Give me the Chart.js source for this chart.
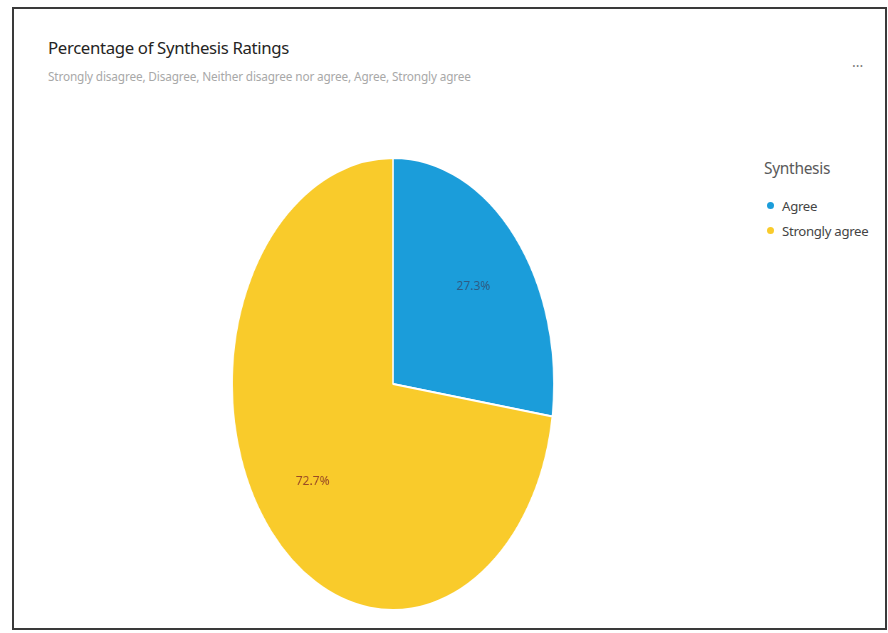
<!DOCTYPE html>
<html>
<head>
<meta charset="utf-8">
<script src="https://cdn.jsdelivr.net/npm/chart.js@4/dist/chart.umd.min.js"></script>
<style>
  html, body { margin: 0; padding: 0; background: #fff; }
  body { width: 888px; height: 633px; position: relative; overflow: hidden; font-family: "Noto Sans", "Open Sans", sans-serif; }
  #card { position: absolute; left: 12px; top: 7px; width: 871px; height: 619px; border: 2px solid #3a3a3a; box-sizing: content-box; }
  #title { position: absolute; left: 48px; top: 36px; font-size: 16.8px; color: #252423; letter-spacing: -0.35px; }
  #subtitle { position: absolute; left: 48px; top: 68px; font-size: 11.8px; color: #a8a8a8; letter-spacing: -0.15px; }
  #more { position: absolute; left: 852px; top: 52px; font-size: 14px; color: #777; }
  #legend { position: absolute; left: 764px; top: 157px; color: #555; }
  #legend .lt { font-size: 15.5px; color: #5a5a5a; margin-bottom: 14px; letter-spacing: -0.3px; }
  #legend .item { font-size: 13.2px; color: #444; height: 25px; line-height: 20px; display: flex; align-items: center; letter-spacing: -0.3px; }
  #legend .dot { width: 7px; height: 7px; border-radius: 50%; margin: 0 8px 0 3px; display: inline-block; }
  #pieBox { position: absolute; left: 166px; top: 157px; width: 454px; height: 454px; transform: scaleX(0.712); transform-origin: 50% 50%; }
</style>
</head>
<body>
<div id="card"></div>
<div id="title">Percentage of Synthesis Ratings</div>
<div id="subtitle">Strongly disagree, Disagree, Neither disagree nor agree, Agree, Strongly agree</div>
<div id="more">...</div>
<div id="legend"></div>
<div id="pieBox"><canvas id="pie"></canvas></div>
<script>
// Synthesis ratings share (percent)
const categories = ['Agree', 'Strongly agree'];
const shares = [27.3, 72.7];
const sliceColors = ['#1b9dda', '#f9cb2b'];
const labelColors = ['#2f5b82', '#9a4b26'];
const legendTitle = 'Synthesis';

// horizontal squeeze applied to the pie box
const SQUEEZE = 0.712;

// legend
const legend = document.getElementById('legend');
let html = '<div class="lt">' + legendTitle + '</div>';
categories.forEach((c, i) => {
  html += '<div class="item"><span class="dot" style="background:' + sliceColors[i] + '"></span>' + c + '</div>';
});
legend.innerHTML = html;

// percentage labels inside slices, drawn unsqueezed
const sliceLabels = {
  id: 'sliceLabels',
  afterDatasetsDraw(chart) {
    const ctx = chart.ctx;
    const meta = chart.getDatasetMeta(0);
    const data = chart.data.datasets[0].data;
    meta.data.forEach((arc, i) => {
      const p = arc.getProps(['x', 'y', 'startAngle', 'endAngle', 'outerRadius'], true);
      const mid = (p.startAngle + p.endAngle) / 2;
      const r = p.outerRadius * 0.66;
      const px = p.x + Math.cos(mid) * r;
      const py = p.y + Math.sin(mid) * r;
      ctx.save();
      ctx.translate(px, py);
      ctx.scale(1 / SQUEEZE, 1);
      ctx.font = '12px "Noto Sans", sans-serif';
      ctx.fillStyle = labelColors[i];
      ctx.textAlign = 'center';
      ctx.textBaseline = 'middle';
      ctx.fillText(data[i].toFixed(1) + '%', 0, 0);
      ctx.restore();
    });
  }
};

new Chart(document.getElementById('pie'), {
  type: 'pie',
  data: {
    labels: categories,
    datasets: [{
      data: shares,
      backgroundColor: sliceColors,
      borderColor: '#ffffff',
      borderWidth: 2
    }]
  },
  options: {
    responsive: true,
    maintainAspectRatio: false,
    animation: false,
    layout: { padding: 0 },
    plugins: {
      legend: { display: false },
      tooltip: { enabled: false },
      title: { display: false }
    }
  },
  plugins: [sliceLabels]
});
</script>
</body>
</html>
